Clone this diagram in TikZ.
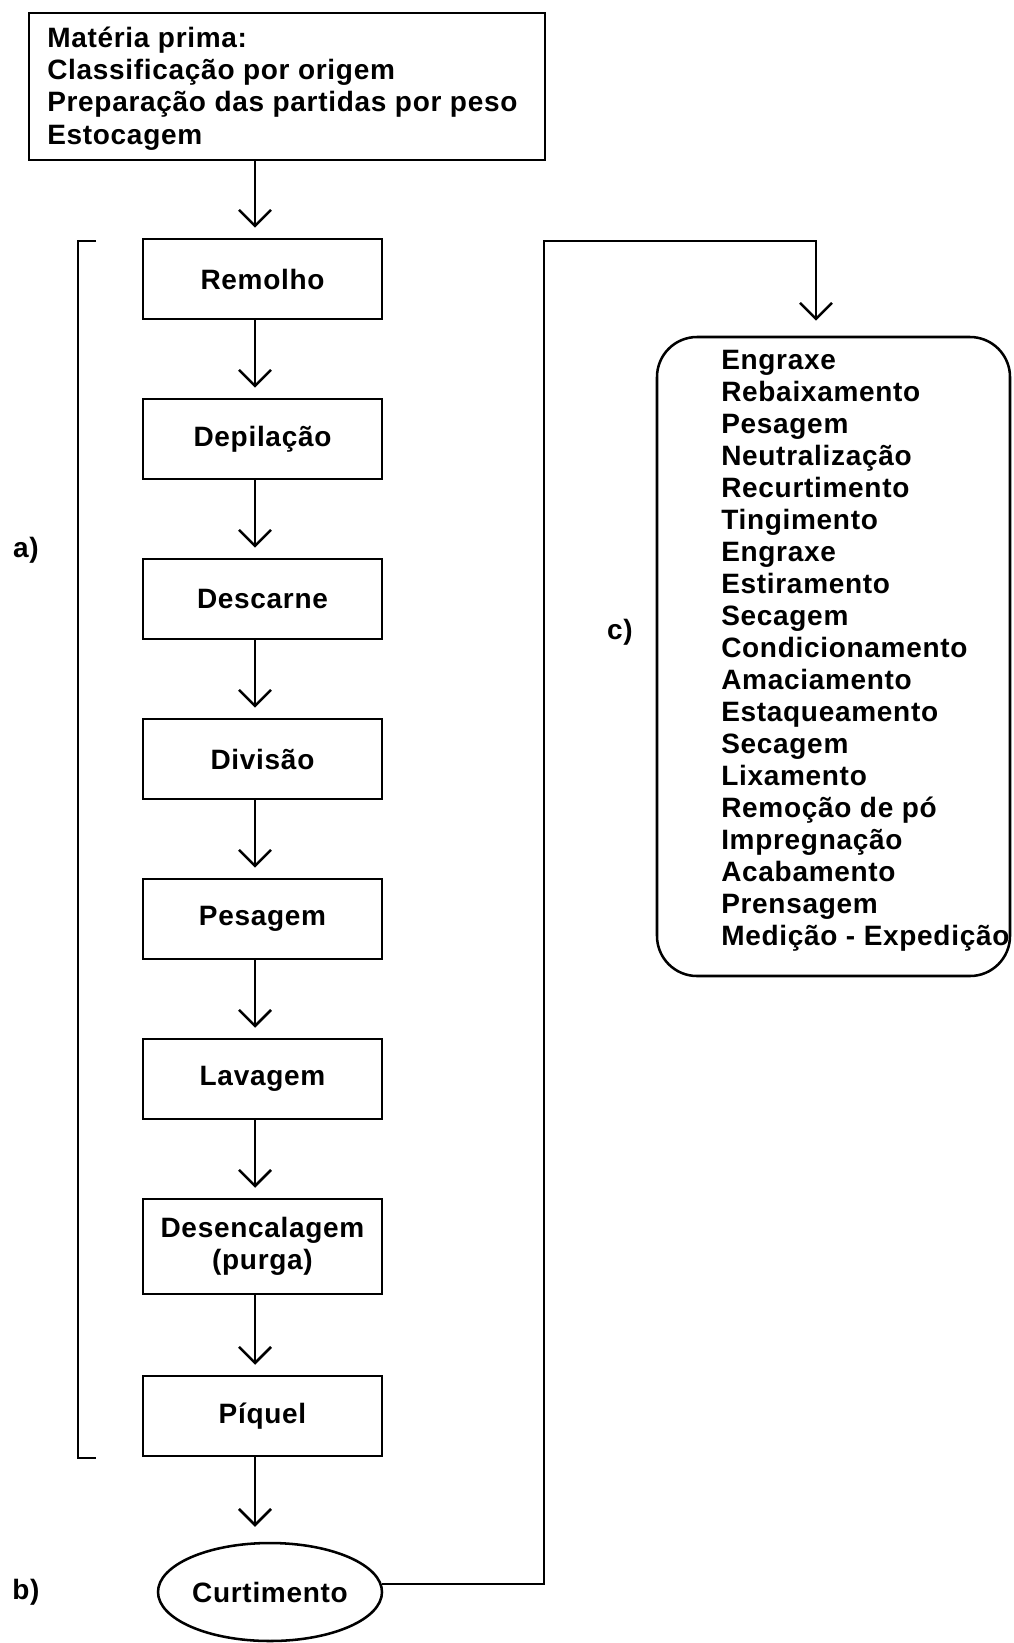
\documentclass[tikz,border=0pt]{standalone}
\usepackage{fontspec}
\setmainfont{Liberation Sans}[LetterSpace=2.5]
\usetikzlibrary{arrows.meta,shapes.geometric}
\tikzset{
  lw/.style={line width=1.9pt},
  txt/.style={font=\bfseries\fontsize{21pt}{24pt}\selectfont, inner sep=0pt},
  stepbox/.style={txt, draw, lw, minimum width=179.25pt, minimum height=60pt, align=center},
  topbox/.style={draw, lw, minimum width=387pt, minimum height=110.25pt, inner sep=0pt},
  listbox/.style={draw, lw, rounded corners=30pt, minimum width=264.75pt, minimum height=479.25pt, inner sep=0pt},
  ellbox/.style={txt, draw, ellipse, lw, minimum width=168pt, minimum height=73.5pt},
  arr/.style={lw, -{Straight Barb[length=12pt,width=24pt,line width=1.9pt]}, shorten >=7.5pt},
}
\begin{document}
\begin{tikzpicture}[x=0.75pt,y=-0.75pt]
\useasboundingbox (0,0) rectangle (1014,1643);
\coordinate (ax) at (255,0);
% top box
\node[topbox] (top) at (287,86.5) {};
\foreach \t [count=\i from 0] in {Matéria prima:, Classificação por origem, Preparação das partidas por peso, Estocagem}
  \node[txt, anchor=base west] (t\i) at (47,47+32.4*\i) {\t};
% steps
\node[stepbox] (s1) at (262.5,279) {Remolho};
\node[stepbox] (s2) at (262.5,439) {Depilação};
\node[stepbox] (s3) at (262.5,599) {Descarne};
\node[stepbox] (s4) at (262.5,759) {Divisão};
\node[stepbox] (s5) at (262.5,919) {Pesagem};
\node[stepbox] (s6) at (262.5,1079) {Lavagem};
\node[stepbox, minimum height=71.25pt] (s7) at (262.5,1246.5) {Desencalagem\\(purga)};
\node[stepbox] (s8) at (262.5,1416) {Píquel};
\node[ellbox] (ell) at (270,1592) {Curtimento};
% arrows
\draw[arr] (top.south -| ax) -- (s1.north -| ax);
\foreach \a/\b in {s1/s2,s2/s3,s3/s4,s4/s5,s5/s6,s6/s7,s7/s8}
  \draw[arr] (\a.south -| ax) -- (\b.north -| ax);
\draw[arr, shorten >=11.25pt] (s8.south -| ax) -- (ell.north -| ax);
% bracket
\coordinate (bt) at (96,241);
\coordinate (bb) at (96,1458);
\draw[lw] (bt) -- (78,241) -- (78,1458) -- (bb);
% labels
\node[txt] (la) at (26,550) {a)};
\node[txt] (lb) at (26,1592) {b)};
\node[txt] (lc) at (620,632) {c)};
% right list
\node[listbox] (rb) at (833.5,656.5) {};
\foreach \t [count=\i from 0] in {Engraxe, Rebaixamento, Pesagem, Neutralização, Recurtimento, Tingimento, Engraxe, Estiramento, Secagem, Condicionamento, Amaciamento, Estaqueamento, Secagem, Lixamento, Remoção de pó, Impregnação, Acabamento, Prensagem, Medição - Expedição}
  \node[txt, anchor=base west] (c\i) at (721,369+32*\i) {\t};
% connector to list
\coordinate (r1) at (544,241);
\coordinate (r2) at (816,241);
\draw[arr, shorten >=11.25pt] (ell.4) -| (r1) -- (r2) -- (rb.north -| r2);
\end{tikzpicture}
\end{document}
